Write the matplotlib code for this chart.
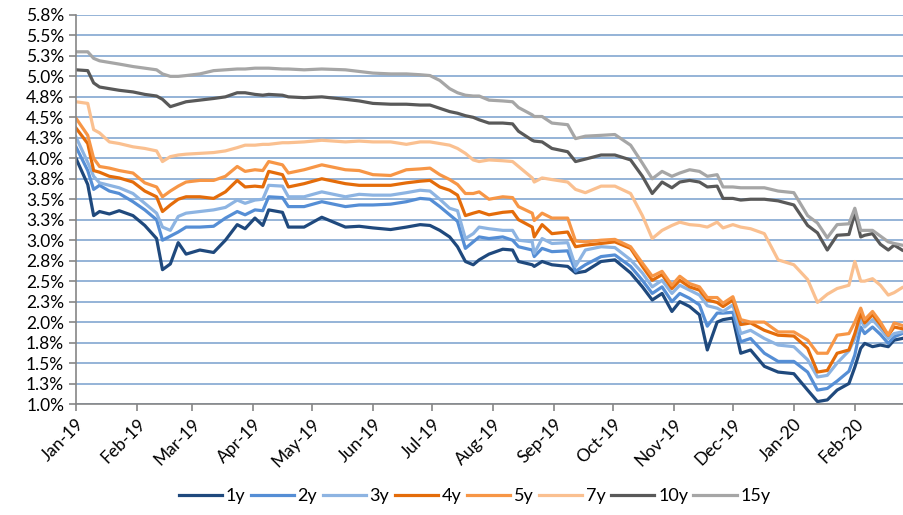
import matplotlib
matplotlib.use("Agg")
import matplotlib.pyplot as plt
import matplotlib.dates as mdates
from matplotlib.ticker import FuncFormatter
import numpy as np
import pandas as pd

# dates of the sampled points
dates = ['2019-01-01', '2019-01-07', '2019-01-10', '2019-01-13', '2019-01-18', '2019-01-23',
         '2019-01-30', '2019-02-05', '2019-02-11', '2019-02-14', '2019-02-18', '2019-02-22',
         '2019-02-26', '2019-03-05', '2019-03-12', '2019-03-18', '2019-03-24', '2019-03-28',
         '2019-04-02', '2019-04-06', '2019-04-09', '2019-04-16', '2019-04-19', '2019-04-27',
         '2019-05-06', '2019-05-18', '2019-05-25', '2019-06-01', '2019-06-10', '2019-06-18',
         '2019-06-25', '2019-06-30', '2019-07-05', '2019-07-10', '2019-07-14', '2019-07-18',
         '2019-07-22', '2019-07-25', '2019-07-30', '2019-08-06', '2019-08-11', '2019-08-14',
         '2019-08-21', '2019-08-22', '2019-08-26', '2019-08-31', '2019-09-08', '2019-09-12',
         '2019-09-17', '2019-09-25', '2019-10-02', '2019-10-10', '2019-10-16', '2019-10-21',
         '2019-10-26', '2019-10-31', '2019-11-04', '2019-11-09', '2019-11-14', '2019-11-18',
         '2019-11-23', '2019-11-26', '2019-12-01', '2019-12-05', '2019-12-10', '2019-12-17',
         '2019-12-24', '2020-01-01', '2020-01-08', '2020-01-13', '2020-01-18', '2020-01-23',
         '2020-01-29', '2020-02-01', '2020-02-04', '2020-02-06', '2020-02-10', '2020-02-14',
         '2020-02-18', '2020-02-21', '2020-02-25']

# yields in %
y1 = [4.00, 3.68, 3.30, 3.35, 3.32, 3.36, 3.30, 3.18, 3.02, 2.64, 2.71, 2.97, 2.83, 2.88,
      2.85, 3.00, 3.19, 3.14, 3.27, 3.18, 3.37, 3.34, 3.16, 3.16, 3.28, 3.16, 3.17, 3.15,
      3.13, 3.16, 3.19, 3.18, 3.12, 3.04, 2.92, 2.74, 2.70, 2.76, 2.83, 2.89, 2.88, 2.74,
      2.70, 2.68, 2.74, 2.70, 2.68, 2.60, 2.62, 2.74, 2.76, 2.60, 2.43, 2.27, 2.35, 2.13,
      2.25, 2.19, 2.09, 1.66, 2.00, 2.03, 2.05, 1.62, 1.66, 1.46, 1.39, 1.37, 1.17, 1.03,
      1.05, 1.17, 1.25, 1.45, 1.68, 1.74, 1.70, 1.72, 1.70, 1.78, 1.80]
y2 = [4.14, 3.85, 3.62, 3.67, 3.60, 3.57, 3.47, 3.37, 3.25, 3.00, 3.05, 3.10, 3.16, 3.16,
      3.17, 3.27, 3.35, 3.31, 3.37, 3.36, 3.53, 3.52, 3.41, 3.41, 3.47, 3.41, 3.43, 3.43,
      3.44, 3.47, 3.51, 3.50, 3.41, 3.31, 3.23, 2.90, 2.98, 3.04, 3.02, 3.04, 3.00, 2.92,
      2.88, 2.80, 2.90, 2.86, 2.87, 2.62, 2.70, 2.80, 2.82, 2.68, 2.51, 2.35, 2.43, 2.25,
      2.35, 2.29, 2.21, 1.95, 2.11, 2.11, 2.12, 1.76, 1.80, 1.62, 1.52, 1.52, 1.39, 1.17,
      1.19, 1.28, 1.40, 1.60, 1.94, 1.86, 1.94, 1.85, 1.74, 1.82, 1.86]
y3 = [4.26, 3.95, 3.78, 3.70, 3.67, 3.64, 3.57, 3.45, 3.33, 3.16, 3.12, 3.29, 3.33, 3.35,
      3.37, 3.40, 3.49, 3.45, 3.49, 3.50, 3.67, 3.66, 3.53, 3.53, 3.59, 3.53, 3.56, 3.55,
      3.55, 3.58, 3.61, 3.60, 3.50, 3.39, 3.36, 3.02, 3.08, 3.16, 3.14, 3.12, 3.12, 3.00,
      2.98, 2.84, 3.02, 2.96, 2.97, 2.68, 2.88, 2.92, 2.91, 2.76, 2.60, 2.43, 2.51, 2.35,
      2.45, 2.39, 2.33, 2.20, 2.17, 2.13, 2.21, 1.86, 1.90, 1.80, 1.72, 1.70, 1.54, 1.33,
      1.35, 1.50, 1.65, 1.80, 2.03, 1.94, 2.03, 1.92, 1.80, 1.86, 1.88]
y4 = [4.37, 4.18, 3.85, 3.83, 3.78, 3.76, 3.71, 3.60, 3.53, 3.35, 3.43, 3.50, 3.53, 3.53,
      3.51, 3.59, 3.73, 3.65, 3.66, 3.65, 3.84, 3.80, 3.65, 3.69, 3.75, 3.69, 3.67, 3.67,
      3.67, 3.70, 3.72, 3.73, 3.65, 3.61, 3.55, 3.30, 3.33, 3.35, 3.31, 3.34, 3.35, 3.25,
      3.16, 3.04, 3.19, 3.08, 3.10, 2.92, 2.94, 2.96, 2.98, 2.90, 2.68, 2.51, 2.58, 2.41,
      2.51, 2.43, 2.39, 2.27, 2.24, 2.19, 2.27, 1.97, 1.99, 1.90, 1.84, 1.83, 1.68, 1.39,
      1.41, 1.62, 1.66, 1.86, 2.11, 1.99, 2.09, 1.97, 1.84, 1.94, 1.92]
y5 = [4.49, 4.28, 4.00, 3.90, 3.88, 3.85, 3.82, 3.70, 3.65, 3.53, 3.60, 3.66, 3.71, 3.73,
      3.73, 3.78, 3.90, 3.84, 3.86, 3.85, 3.96, 3.92, 3.82, 3.86, 3.92, 3.86, 3.85, 3.80,
      3.79, 3.86, 3.87, 3.88, 3.80, 3.74, 3.68, 3.57, 3.57, 3.59, 3.50, 3.53, 3.52, 3.41,
      3.33, 3.24, 3.33, 3.27, 3.27, 2.99, 2.98, 3.00, 3.01, 2.92, 2.72, 2.56, 2.62, 2.45,
      2.56, 2.47, 2.43, 2.30, 2.30, 2.23, 2.31, 2.03, 2.00, 2.00, 1.88, 1.88, 1.78, 1.62,
      1.62, 1.84, 1.86, 2.00, 2.17, 2.03, 2.13, 2.00, 1.84, 1.99, 1.96]
y7 = [4.69, 4.67, 4.35, 4.31, 4.20, 4.18, 4.14, 4.12, 4.09, 3.96, 4.02, 4.04, 4.05, 4.06,
      4.07, 4.09, 4.13, 4.16, 4.16, 4.17, 4.17, 4.19, 4.19, 4.20, 4.22, 4.20, 4.21, 4.20,
      4.20, 4.17, 4.20, 4.20, 4.18, 4.16, 4.12, 4.06, 3.98, 3.96, 3.98, 3.97, 3.96, 3.90,
      3.76, 3.71, 3.76, 3.74, 3.71, 3.62, 3.58, 3.66, 3.66, 3.57, 3.30, 3.02, 3.12, 3.18,
      3.22, 3.19, 3.18, 3.16, 3.22, 3.15, 3.19, 3.16, 3.14, 3.08, 2.76, 2.70, 2.52, 2.24,
      2.34, 2.41, 2.45, 2.74, 2.50, 2.50, 2.53, 2.45, 2.33, 2.36, 2.42]
y10 = [5.08, 5.07, 4.92, 4.87, 4.85, 4.83, 4.81, 4.78, 4.76, 4.72, 4.63, 4.66, 4.69, 4.71,
       4.73, 4.75, 4.80, 4.80, 4.78, 4.77, 4.78, 4.77, 4.75, 4.74, 4.75, 4.72, 4.70, 4.67,
       4.66, 4.66, 4.65, 4.65, 4.61, 4.57, 4.55, 4.52, 4.50, 4.47, 4.43, 4.43, 4.42, 4.33,
       4.22, 4.21, 4.20, 4.12, 4.08, 3.96, 3.99, 4.04, 4.04, 3.98, 3.78, 3.57, 3.71, 3.64,
       3.71, 3.73, 3.71, 3.65, 3.66, 3.51, 3.51, 3.49, 3.50, 3.50, 3.48, 3.43, 3.18, 3.09,
       2.88, 3.06, 3.07, 3.33, 3.04, 3.06, 3.08, 2.95, 2.88, 2.94, 2.88]
y15 = [5.30, 5.30, 5.22, 5.19, 5.17, 5.15, 5.12, 5.10, 5.08, 5.03, 5.00, 5.00, 5.01, 5.03,
       5.07, 5.08, 5.09, 5.09, 5.10, 5.10, 5.10, 5.09, 5.09, 5.08, 5.09, 5.08, 5.06, 5.04,
       5.03, 5.03, 5.02, 5.01, 4.95, 4.85, 4.80, 4.77, 4.76, 4.76, 4.71, 4.70, 4.69, 4.62,
       4.53, 4.51, 4.51, 4.43, 4.41, 4.24, 4.27, 4.28, 4.29, 4.16, 3.94, 3.75, 3.84, 3.78,
       3.82, 3.86, 3.84, 3.78, 3.80, 3.65, 3.65, 3.64, 3.64, 3.64, 3.60, 3.58, 3.30, 3.21,
       3.03, 3.19, 3.20, 3.39, 3.12, 3.12, 3.12, 3.05, 2.98, 2.96, 2.94]

labels = ['1y', '2y', '3y', '4y', '5y', '7y', '10y', '15y']
colors = ['#1F497D', '#558ED5', '#8DB4E2', '#E46C0A', '#F79646', '#FAC090', '#595959', '#A6A6A6']
series = [y1, y2, y3, y4, y5, y7, y10, y15]

x = pd.to_datetime(dates)

plt.rcParams['font.family'] = ['Lato', 'DejaVu Sans']

fig = plt.figure(figsize=(9.04, 5.15), dpi=100)
ax = fig.add_axes([0.084, 0.2155, 0.916, 0.7555])

for vals, lab, col in zip(series, labels, colors):
    ax.plot(x, vals, color=col, lw=2.3, label=lab, solid_joinstyle='round')

ax.set_ylim(1.0, 5.75)
ax.set_yticks(np.arange(1.0, 5.76, 0.25))
ax.yaxis.set_major_formatter(FuncFormatter(lambda v, p: f"{v + 1e-9:.1f}%"))
ax.set_xlim(pd.Timestamp('2019-01-01'), pd.Timestamp('2020-02-26'))
ax.xaxis.set_major_locator(mdates.MonthLocator())
ax.xaxis.set_major_formatter(mdates.DateFormatter('%b-%y'))

ax.grid(axis='y', color='#95B3D7', lw=1.4)
ax.set_axisbelow(True)
for s in ['top', 'right']:
    ax.spines[s].set_visible(False)
for s in ['left', 'bottom']:
    ax.spines[s].set_color('#868686')
    ax.spines[s].set_linewidth(1.2)
ax.tick_params(axis='both', colors='#868686', labelcolor='black', labelsize=12.5,
               direction='out', length=5, width=1.2)
plt.setp(ax.get_xticklabels(), rotation=45, ha='right', rotation_mode='anchor')

fig.legend(loc='lower center', bbox_to_anchor=(0.525, -0.01), ncol=8, frameon=False,
           handlelength=2.4, handletextpad=0.2, columnspacing=0.3, fontsize=13)

fig.savefig('out.png', dpi=100)
